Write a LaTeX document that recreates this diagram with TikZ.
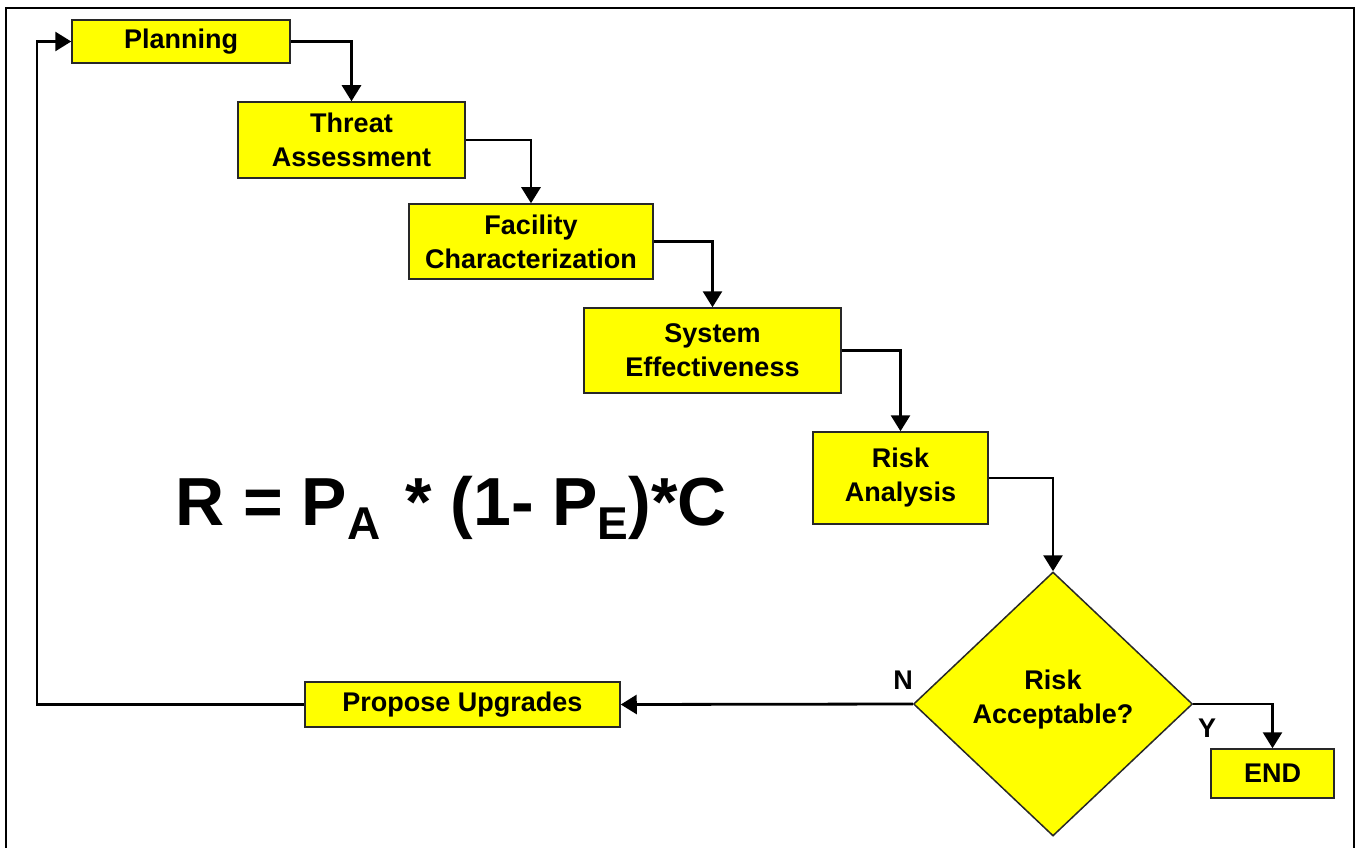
\documentclass[tikz,border=0pt]{standalone}
\usepackage{fontspec}
\setmainfont{Liberation Sans}
\usetikzlibrary{arrows.meta,shapes.geometric}
\definecolor{boxyellow}{RGB}{255,255,0}
\definecolor{boxline}{RGB}{40,40,40}
\tikzset{
  stepbox/.style={draw=boxline, line width=1.5pt, fill=boxyellow, inner sep=0pt,
    align=center, font=\fontsize{27}{34}\selectfont\bfseries},
  decision/.style={diamond, draw=boxline, line width=1.5pt, fill=boxyellow, inner sep=0pt,
    align=center, font=\fontsize{27}{34}\selectfont\bfseries},
  conn/.style={line width=2.8pt, draw=black, -{Triangle[length=16pt,width=19pt]}},
  lbl/.style={font=\fontsize{27}{34}\selectfont\bfseries, inner sep=0pt}
}
\begin{document}
\begin{tikzpicture}[x=1pt,y=-1pt]
\useasboundingbox (0,0) rectangle (1361,848);
\fill[white] (0,0) rectangle (1361,848);
% frame
\draw[line width=2.2pt, black] (6,870) -- (6,8) -- (1354,8) -- (1354,870);
% nodes
\node[stepbox, minimum width=218pt, minimum height=43pt] (plan) at (181,41.5) {Planning};
\node[stepbox, minimum width=227pt, minimum height=76pt] (threat) at (351.5,140) {Threat\\Assessment};
\node[stepbox, minimum width=244pt, minimum height=75pt] (facil) at (531,241.5) {Facility\\Characterization};
\node[stepbox, minimum width=257pt, minimum height=85pt] (syseff) at (712.5,350.5) {System\\Effectiveness};
\node[stepbox, minimum width=175pt, minimum height=92pt] (riskan) at (900.5,478) {Risk\\Analysis};
\node[decision, minimum width=279pt, minimum height=264pt] (dia) at (1053,704) {};
\node[lbl, align=center] (diatext) at (1053,700) {Risk\\Acceptable?};
\node[stepbox, minimum width=315pt, minimum height=45pt] (propose) at (462.5,704.5) {Propose Upgrades};
\node[stepbox, minimum width=123pt, minimum height=49pt] (end) at (1272.5,773.5) {END};
\node[lbl] (nlbl) at (903,680) {N};
\node[lbl] (ylbl) at (1207,728) {Y};
% formula
\node[anchor=base west, inner sep=0pt, font=\fontsize{68}{82}\selectfont\bfseries] (formula) at (175,525)
  {R = P\raisebox{-14pt}{\fontsize{46}{46}\selectfont A}\hspace{6pt} * (1- P\raisebox{-14pt}{\fontsize{46}{46}\selectfont E})*C};
% connectors
\draw[conn] (plan.east) -| (threat.north);
\draw[conn] (threat.east) -| (facil.north);
\draw[conn] (facil.east) -| (syseff.north);
\draw[conn] (syseff.east) -| (riskan.north);
\draw[conn] (riskan.east) -| (dia.north);
\draw[conn] (dia.west) -- (propose.east);
\draw[conn] (dia.east) -| (end.north);
\coordinate (loop) at (37,704.5);
\draw[conn] (propose.west) -- (loop) |- (plan.west);
\end{tikzpicture}
\end{document}
